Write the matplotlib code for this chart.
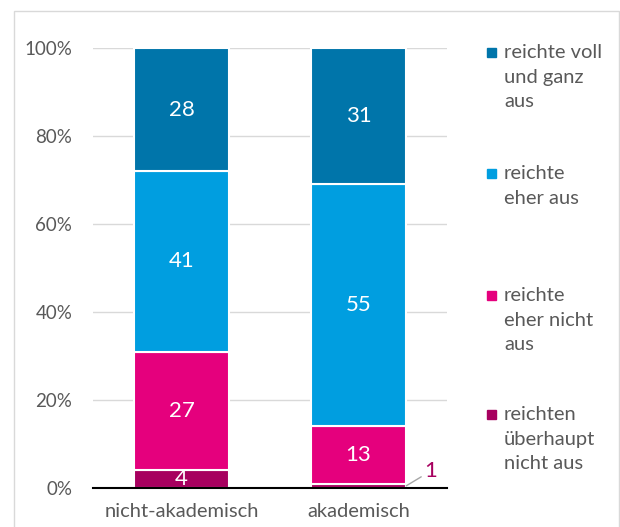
import matplotlib
matplotlib.use('Agg')
import matplotlib.pyplot as plt
from matplotlib.patches import Rectangle
import numpy as np

plt.rcParams['font.family'] = ['Lato', 'DejaVu Sans']

categories = ['nicht-akademisch', 'akademisch']
# Reihenfolge von unten nach oben
series_names = ['reichten\nüberhaupt\nnicht aus', 'reichte\neher nicht\naus',
                'reichte\neher aus', 'reichte voll\nund ganz\naus']
values = [
    [4, 1],
    [27, 13],
    [41, 55],
    [28, 31],
]
colors = ['#A7005F', '#E5007D', '#009EE0', '#0075AA']
text_gray = '#595959'

fig = plt.figure(figsize=(6.2, 5.27), dpi=100)
W, H = 620, 527


def px(x, y):
    return x / W, 1 - y / H


# Rahmen
fig.patches.append(Rectangle(px(14, 540), (619 - 14) / W, (540 - 11) / H,
                             transform=fig.transFigure, fill=False,
                             edgecolor='#D9D9D9', linewidth=1, zorder=0))

ax = fig.add_axes([93 / W, 1 - 488 / H, 354 / W, 440 / H])
x = np.arange(len(categories))
bottom = np.zeros(len(categories))
totals = np.sum(values, axis=0)
for vals, c in zip(values, colors):
    frac = np.array(vals) / totals
    ax.bar(x, frac, 0.54, bottom=bottom, color=c, edgecolor='white',
           linewidth=1.5, zorder=2)
    for xi, v, f, b in zip(x, vals, frac, bottom):
        if v >= 2:
            ax.text(xi, b + f / 2, str(v), ha='center', va='center',
                    color='white', fontsize=16, zorder=3)
        else:
            ax.annotate(str(v), xy=(xi + 0.27, b + f / 2), xytext=(xi + 0.37, b + f + 0.028),
                        ha='left', va='center', color=c, fontsize=16,
                        arrowprops=dict(arrowstyle='-', color='#A6A6A6', lw=1,
                                        shrinkA=0, shrinkB=0))
    bottom += frac

ax.set_xlim(-0.5, 1.5)
ax.set_ylim(0, 1)
ax.set_yticks(np.arange(0, 1.01, 0.2))
ax.set_yticklabels([f'{int(round(t * 100))}%' for t in np.arange(0, 1.01, 0.2)])
ax.yaxis.grid(True, color='#D9D9D9', linewidth=1, zorder=0)
ax.set_axisbelow(True)
ax.set_xticks(x)
ax.set_xticklabels(categories)
ax.tick_params(axis='both', length=0, colors=text_gray)
ax.tick_params(axis='y', pad=15, labelsize=13.5)
ax.tick_params(axis='x', pad=11, labelsize=14.5)
for s in ['top', 'right', 'left']:
    ax.spines[s].set_visible(False)
ax.spines['bottom'].set_color('black')
ax.spines['bottom'].set_linewidth(1.5)
ax.spines['bottom'].set_zorder(4)

# Legende
legend_y = [52, 173, 295, 414]
for name, c, ly in zip(series_names[::-1], colors[::-1], legend_y):
    fig.patches.append(Rectangle(px(487, ly + 5), 9 / W, 9 / H,
                                 transform=fig.transFigure, color=c))
    fig.text(504 / W, 1 - (ly - 8) / H, name, ha='left', va='top',
             fontsize=14.5, color=text_gray, linespacing=1.55)

fig.savefig('out.png', dpi=100)
